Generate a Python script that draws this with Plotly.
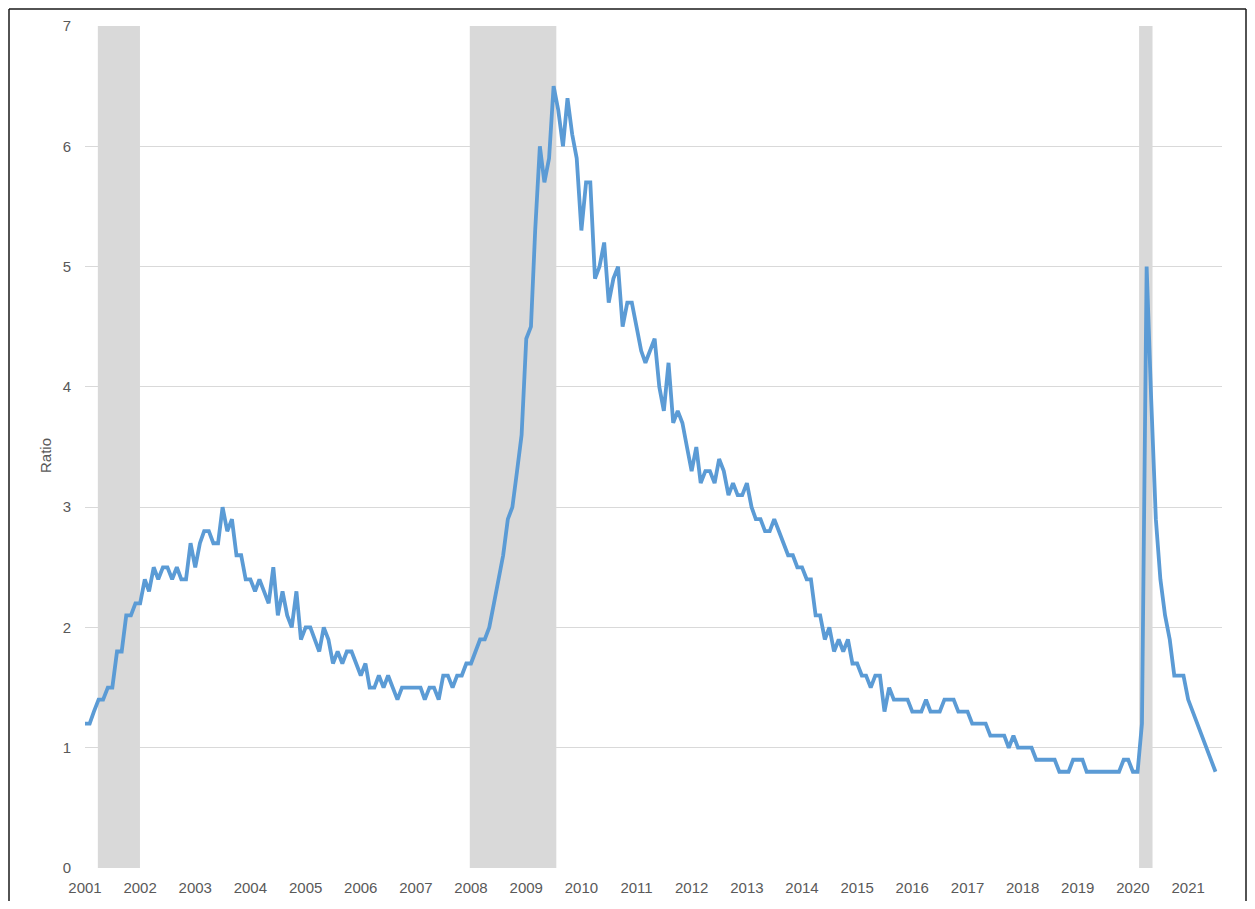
import pandas as pd
import plotly.graph_objects as go

# Monthly ratio, Jan 2001 onward
ratio = [
    1.2, 1.2, 1.3, 1.4, 1.4, 1.5, 1.5, 1.8, 1.8, 2.1, 2.1, 2.2,   # 2001
    2.2, 2.4, 2.3, 2.5, 2.4, 2.5, 2.5, 2.4, 2.5, 2.4, 2.4, 2.7,   # 2002
    2.5, 2.7, 2.8, 2.8, 2.7, 2.7, 3.0, 2.8, 2.9, 2.6, 2.6, 2.4,   # 2003
    2.4, 2.3, 2.4, 2.3, 2.2, 2.5, 2.1, 2.3, 2.1, 2.0, 2.3, 1.9,   # 2004
    2.0, 2.0, 1.9, 1.8, 2.0, 1.9, 1.7, 1.8, 1.7, 1.8, 1.8, 1.7,   # 2005
    1.6, 1.7, 1.5, 1.5, 1.6, 1.5, 1.6, 1.5, 1.4, 1.5, 1.5, 1.5,   # 2006
    1.5, 1.5, 1.4, 1.5, 1.5, 1.4, 1.6, 1.6, 1.5, 1.6, 1.6, 1.7,   # 2007
    1.7, 1.8, 1.9, 1.9, 2.0, 2.2, 2.4, 2.6, 2.9, 3.0, 3.3, 3.6,   # 2008
    4.4, 4.5, 5.3, 6.0, 5.7, 5.9, 6.5, 6.3, 6.0, 6.4, 6.1, 5.9,   # 2009
    5.3, 5.7, 5.7, 4.9, 5.0, 5.2, 4.7, 4.9, 5.0, 4.5, 4.7, 4.7,   # 2010
    4.5, 4.3, 4.2, 4.3, 4.4, 4.0, 3.8, 4.2, 3.7, 3.8, 3.7, 3.5,   # 2011
    3.3, 3.5, 3.2, 3.3, 3.3, 3.2, 3.4, 3.3, 3.1, 3.2, 3.1, 3.1,   # 2012
    3.2, 3.0, 2.9, 2.9, 2.8, 2.8, 2.9, 2.8, 2.7, 2.6, 2.6, 2.5,   # 2013
    2.5, 2.4, 2.4, 2.1, 2.1, 1.9, 2.0, 1.8, 1.9, 1.8, 1.9, 1.7,   # 2014
    1.7, 1.6, 1.6, 1.5, 1.6, 1.6, 1.3, 1.5, 1.4, 1.4, 1.4, 1.4,   # 2015
    1.3, 1.3, 1.3, 1.4, 1.3, 1.3, 1.3, 1.4, 1.4, 1.4, 1.3, 1.3,   # 2016
    1.3, 1.2, 1.2, 1.2, 1.2, 1.1, 1.1, 1.1, 1.1, 1.0, 1.1, 1.0,   # 2017
    1.0, 1.0, 1.0, 0.9, 0.9, 0.9, 0.9, 0.9, 0.8, 0.8, 0.8, 0.9,   # 2018
    0.9, 0.9, 0.8, 0.8, 0.8, 0.8, 0.8, 0.8, 0.8, 0.8, 0.9, 0.9,   # 2019
    0.8, 0.8, 1.2, 5.0, 3.9, 2.9, 2.4, 2.1, 1.9, 1.6, 1.6, 1.6,   # 2020
    1.4, 1.3, 1.2, 1.1, 1.0, 0.9, 0.8,                            # 2021
]
months = pd.date_range("2001-01-01", periods=len(ratio), freq="MS")

# Recession shading (as drawn in the source)
recession_start = ["2001-03-27", "2007-12-24", "2020-02-11"]
recession_end = ["2001-12-31", "2009-07-19", "2020-05-10"]

year_ticks = [f"{y}-01-01" for y in range(2001, 2022)]
year_labels = [str(y) for y in range(2001, 2022)]

BLUE = "#5b9bd5"
GRID = "#d9d9d9"
TXT = "#595959"
FONT = "Liberation Sans"

# page body has an 8px margin; keep the figure inside the 1255x909 viewport
W, H = 1239, 893
ML, MR, MT, MB = 77, 25, 18, 33
PW, PH = W - ML - MR, H - MT - MB


def px(xpage):
    return (xpage - 8 - ML) / PW


def py(ypage):
    return (H - MB - (ypage - 8)) / PH


fig = go.Figure()
fig.add_trace(go.Scatter(
    x=months, y=ratio, mode="lines",
    line=dict(color=BLUE, width=3.8),
    hoverinfo="x+y", showlegend=False,
))

shapes = []
for s, e in zip(recession_start, recession_end):
    shapes.append(dict(type="rect", xref="x", yref="y", x0=s, x1=e, y0=0, y1=7,
                       fillcolor="#d9d9d9", line=dict(width=0), layer="between"))
# chart border (left, top, right)
L, T, R, B = px(9), py(9), px(1246), py(905)
for x0, y0, x1, y1 in [(L, B, L, T), (L, T, R, T), (R, B, R, T)]:
    shapes.append(dict(type="line", xref="paper", yref="paper", x0=x0, y0=y0,
                       x1=x1, y1=y1, line=dict(color="#1a1a1a", width=1.5),
                       layer="above"))

fig.update_layout(
    width=W, height=H,
    margin=dict(l=ML, r=MR, t=MT, b=MB, autoexpand=False),
    paper_bgcolor="white", plot_bgcolor="white",
    font=dict(family=FONT, size=15, color=TXT),
    shapes=shapes,
    annotations=[dict(text="Ratio", xref="paper", yref="paper",
                      x=px(45), y=py(455), textangle=-90, showarrow=False,
                      xanchor="center", yanchor="middle",
                      font=dict(family=FONT, size=15, color=TXT))],
    xaxis=dict(type="date", range=["2001-01-01", "2021-08-13"],
               tickvals=year_ticks, ticktext=year_labels,
               showgrid=False, zeroline=False, showline=False, ticks="",
               ticklabelstandoff=9, tickfont=dict(size=15, color=TXT)),
    yaxis=dict(range=[0, 7], dtick=1, tick0=0, showgrid=True, gridcolor=GRID,
               gridwidth=1, zeroline=False, showline=False, ticks="",
               ticklabelstandoff=13, tickfont=dict(size=15, color=TXT)),
)

fig.write_html("out.html")
